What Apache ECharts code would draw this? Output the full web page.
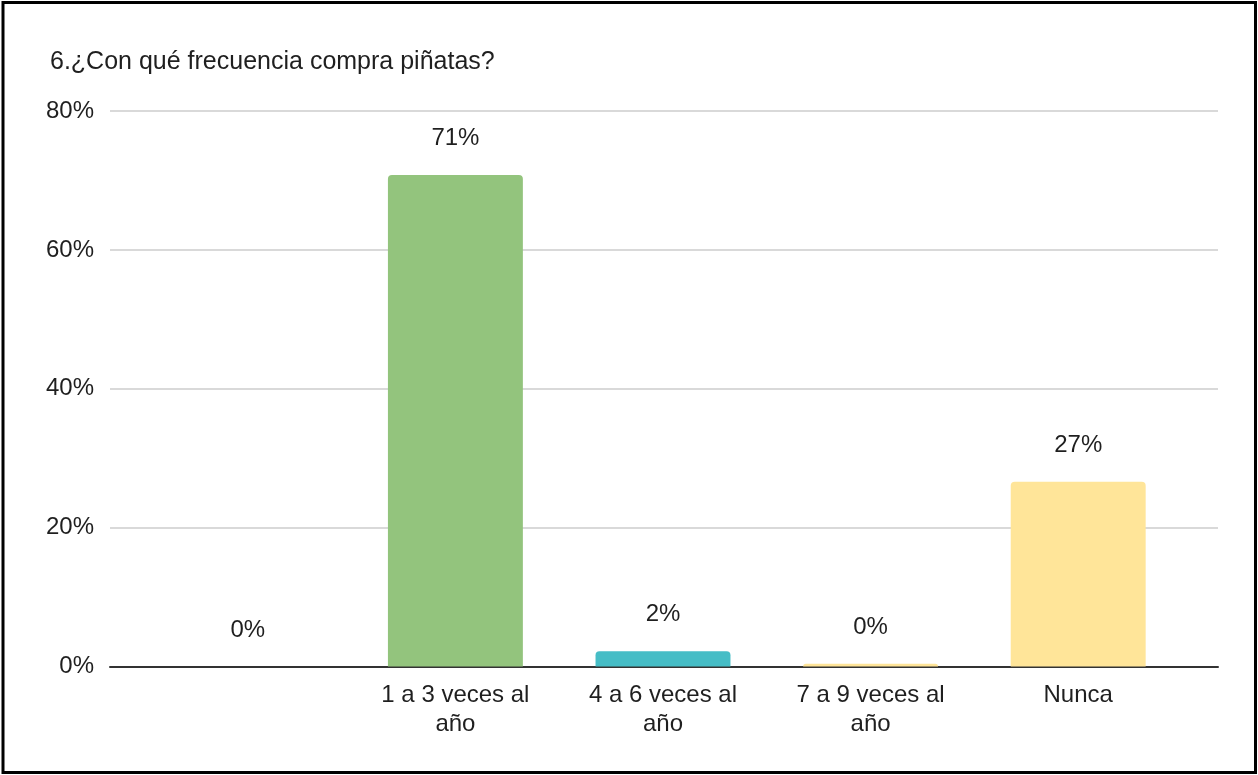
<!DOCTYPE html>
<html>
<head>
<meta charset="utf-8">
<script src="https://cdn.jsdelivr.net/npm/echarts@6/dist/echarts.min.js"></script>
<style>
  html, body { margin: 0; padding: 0; background: #fff; }
  #chart { width: 1258px; height: 775px; }
</style>
</head>
<body>
<div id="chart"></div>
<script>
// Survey question and answers
const chartTitle = '6.¿Con qué frecuencia compra piñatas?';
const categories = ['', '1 a 3 veces al año', '4 a 6 veces al año', '7 a 9 veces al año', 'Nunca'];
const percentages = [0, 70.8, 2.2, 0.4, 26.6];
const barColors = ['#4285F4', '#93C47D', '#46BDC6', '#FFE599', '#FFE599'];
const yTicks = { min: 0, max: 80, interval: 20 };

const FONT = '"Liberation Sans", Arial, sans-serif';
const TEXT = '#1f1f1f';

const chart = echarts.init(document.getElementById('chart'), null, { renderer: 'canvas' });

chart.setOption({
  backgroundColor: '#ffffff',
  animation: false,
  title: {
    text: chartTitle,
    left: 50,
    top: 50,
    padding: 0,
    textStyle: { fontFamily: FONT, fontSize: 25, fontWeight: 'normal', color: TEXT }
  },
  graphic: [{
    type: 'rect',
    shape: { x: 3, y: 2.5, width: 1252.5, height: 770 },
    style: { fill: 'none', stroke: '#000', lineWidth: 3 },
    silent: true,
    z: 100
  }],
  grid: [
    // value scale, gridlines and baseline across the full plot width
    { left: 110, right: 40, top: 111, bottom: 108.5 },
    // category band for the bars
    { left: 144, right: 76, top: 111, bottom: 108.5 }
  ],
  xAxis: [
    {
      gridIndex: 0, type: 'value', min: 0, max: 1,
      axisLine: { show: true, lineStyle: { color: '#333333', width: 2 } },
      axisTick: { show: false }, axisLabel: { show: false }, splitLine: { show: false }
    },
    {
      gridIndex: 1, type: 'category', data: categories,
      axisLine: { show: false }, axisTick: { show: false },
      axisLabel: {
        interval: 0, margin: 14, fontFamily: FONT, fontSize: 24, color: TEXT, lineHeight: 29,
        formatter: v => v.replace(/ año$/, '\naño')
      }
    }
  ],
  yAxis: [
    {
      gridIndex: 0, type: 'value', min: yTicks.min, max: yTicks.max, interval: yTicks.interval,
      axisLine: { show: false }, axisTick: { show: false },
      axisLabel: {
        margin: 16, fontFamily: FONT, fontSize: 24, color: TEXT, formatter: '{value}%',
        padding: [4, 0, 0, 0]
      },
      splitLine: { lineStyle: { color: '#cccccc', width: 1.5 } }
    },
    {
      gridIndex: 1, type: 'value', min: yTicks.min, max: yTicks.max, show: false
    }
  ],
  series: [{
    type: 'bar',
    xAxisIndex: 1, yAxisIndex: 1,
    barWidth: '65%',
    data: percentages.map((v, i) => ({ value: v, itemStyle: { color: barColors[i] } })),
    itemStyle: { borderRadius: [4, 4, 0, 0] },
    label: {
      show: true, position: 'top', distance: 24.5,
      fontFamily: FONT, fontSize: 24, color: TEXT,
      formatter: p => Math.round(p.value) + '%'
    },
    z: 3
  }]
});
</script>
</body>
</html>
